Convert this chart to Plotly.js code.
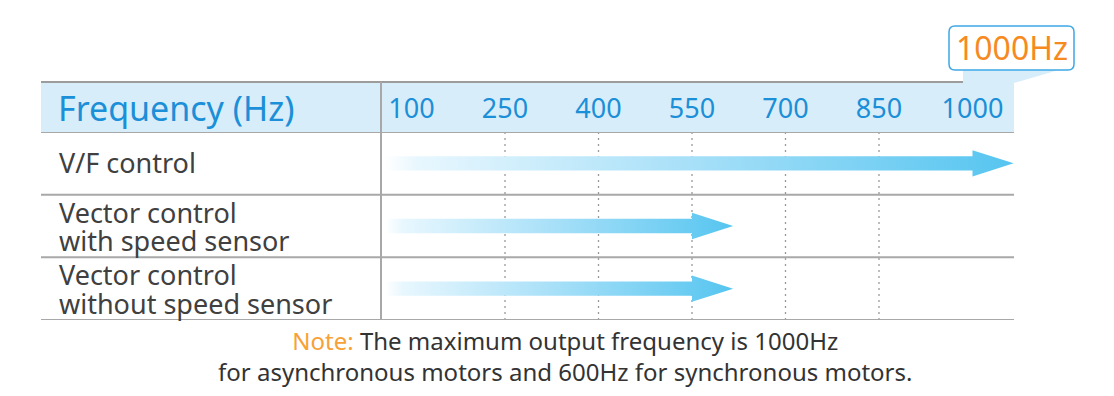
<!DOCTYPE html>
<html>
<head>
<meta charset="utf-8">
<script src="https://cdn.plot.ly/plotly-3.0.1.min.js"></script>
<style>html,body{margin:0;padding:0;background:#fff;}#chart{width:1114px;height:396px;}</style>
</head>
<body>
<div id="chart"></div>
<script>
// ---- data ----
var freqTicks = [100, 250, 400, 550, 700, 850, 1000];
var tickLabels = ["100", "250", "400", "550", "700", "850", "1000"];
var controlModes = ["V/F control", "Vector control\nwith speed sensor", "Vector control\nwithout speed sensor"];
var maxFreq = [1000, 550, 550];
var headerLabel = "Frequency (Hz)";
var calloutLabel = "1000Hz";
var noteLine1 = "The maximum output frequency is 1000Hz";
var noteLine2 = "for asynchronous motors and 600Hz for synchronous motors.";

// ---- geometry / style ----
var W = 1114, H = 396;
var M = {l: 41, r: 100, t: 132, b: 76};
var PW = W - M.l - M.r, PH = H - M.t - M.b;
function px(x) { return (x - M.l) / PW; }
function py(y) { return (H - M.b - y) / PH; }
var xRange = [-494.4, 1066.6];
var arrowStart = 58, headLen = 66, shaftHalf = 0.115, headHalf = 0.21;
var FONT = "Noto Sans, Open Sans, sans-serif";
var BLUE_TXT = "#1b8fd7", GRID = "#a8a8a8";

var traces = [];
maxFreq.forEach(function (v, i) {
  var xb = v, xt = v + headLen;
  traces.push({
    type: "scatter", mode: "lines",
    x: [arrowStart, xb, xb, xt, xb, xb, arrowStart, arrowStart],
    y: [i - shaftHalf, i - shaftHalf, i - headHalf, i, i + headHalf, i + shaftHalf, i + shaftHalf, i - shaftHalf],
    fill: "toself",
    fillgradient: {type: "horizontal", colorscale: [[0, "rgba(255,255,255,1)"], [0.05, "rgba(232,247,254,1)"], [0.5, "rgba(165,223,248,1)"], [1, "rgba(86,197,240,1)"]]},
    line: {width: 0, color: "rgba(0,0,0,0)"},
    hoverinfo: "skip", showlegend: false, cliponaxis: false
  });
});

var headerTop = py(82);
var shapes = [
  {type: "rect", xref: "paper", yref: "paper", x0: 0, x1: 1, y0: 1, y1: headerTop, fillcolor: "#d7edfa", line: {width: 0}, layer: "below"}
];
// dotted grid lines (inner ticks)
freqTicks.slice(1, -1).forEach(function (f) {
  shapes.push({type: "line", xref: "x", yref: "paper", x0: f, x1: f, y0: 0, y1: 1, line: {color: "#9a9a9a", width: 1.3, dash: "2px,4px"}, layer: "below"});
});
// horizontal rules
shapes.push({type: "line", xref: "paper", yref: "paper", x0: 0, x1: 1, y0: headerTop, y1: headerTop, line: {color: "#9c9c9c", width: 2}, layer: "above"});
for (var k = 0; k <= controlModes.length; k++) {
  shapes.push({type: "line", xref: "paper", yref: "y", x0: 0, x1: 1, y0: k - 0.5, y1: k - 0.5, line: {color: GRID, width: 2}, layer: "above"});
}
// vertical divider
shapes.push({type: "line", xref: "paper", yref: "paper", x0: px(381), x1: px(381), y0: 0, y1: headerTop, line: {color: GRID, width: 2}, layer: "above"});
// callout wedge
shapes.push({type: "path", xref: "paper", yref: "paper",
  path: "M" + px(963) + "," + py(69) + " L" + px(1062) + "," + py(69) + " L" + px(1014) + "," + py(83) + " L" + px(963) + "," + py(83) + " Z",
  fillcolor: "#d7edfa", line: {width: 0}, layer: "above"});
// callout box (rounded)
(function () {
  var x0 = 949, x1 = 1074, y0 = 26, y1 = 70, r = 6;
  var p = "M" + px(x0 + r) + "," + py(y0) +
    " L" + px(x1 - r) + "," + py(y0) +
    " Q" + px(x1) + "," + py(y0) + " " + px(x1) + "," + py(y0 + r) +
    " L" + px(x1) + "," + py(y1 - r) +
    " Q" + px(x1) + "," + py(y1) + " " + px(x1 - r) + "," + py(y1) +
    " L" + px(x0 + r) + "," + py(y1) +
    " Q" + px(x0) + "," + py(y1) + " " + px(x0) + "," + py(y1 - r) +
    " L" + px(x0) + "," + py(y0 + r) +
    " Q" + px(x0) + "," + py(y0) + " " + px(x0 + r) + "," + py(y0) + " Z";
  shapes.push({type: "path", xref: "paper", yref: "paper", path: p, fillcolor: "#ffffff", line: {color: "#3ea8e6", width: 1.5}, layer: "above"});
})();

var annotations = [
  {xref: "paper", yref: "paper", x: px(56), y: py(108), xanchor: "left", yanchor: "middle", text: headerLabel, showarrow: false, font: {family: FONT, size: 34, color: BLUE_TXT}},
  {xref: "paper", yref: "paper", x: px(1011.5), y: py(48), xanchor: "center", yanchor: "middle", text: calloutLabel, showarrow: false, font: {family: FONT, size: 32, color: "#f68a1f"}},
  {xref: "paper", yref: "paper", x: px(565), y: py(356), xanchor: "center", yanchor: "middle", align: "center",
    text: '<span style="color:#f7a136">Note:</span> ' + noteLine1 + "<br>" + noteLine2, showarrow: false, font: {family: FONT, size: 24, color: "#333333"}}
];
controlModes.forEach(function (m, i) {
  var lines = m.split("\n");
  lines.forEach(function (ln, j) {
    var shift = lines.length === 1 ? 1 : (j === 0 ? 14 : -14.5);
    annotations.push({xref: "paper", yref: "y", x: px(57), y: i, yshift: shift, xanchor: "left", yanchor: "middle",
      text: ln, showarrow: false, font: {family: FONT, size: 27, color: "#404040"}});
  });
});

var layout = {
  width: W, height: H,
  margin: {l: M.l, r: M.r, t: M.t, b: M.b, pad: 0},
  paper_bgcolor: "#ffffff", plot_bgcolor: "#ffffff",
  showlegend: false,
  xaxis: {range: xRange, side: "top", tickvals: freqTicks, ticktext: tickLabels, ticks: "", showgrid: false, zeroline: false, showline: false, fixedrange: true, automargin: false,
    tickfont: {family: FONT, size: 27, color: BLUE_TXT}, ticklabelstandoff: 8},
  yaxis: {range: [controlModes.length - 0.5, -0.5], showticklabels: false, showgrid: false, zeroline: false, showline: false, fixedrange: true, automargin: false},
  shapes: shapes,
  annotations: annotations
};

Plotly.newPlot("chart", traces, layout, {displayModeBar: false, staticPlot: true});
</script>
</body>
</html>
